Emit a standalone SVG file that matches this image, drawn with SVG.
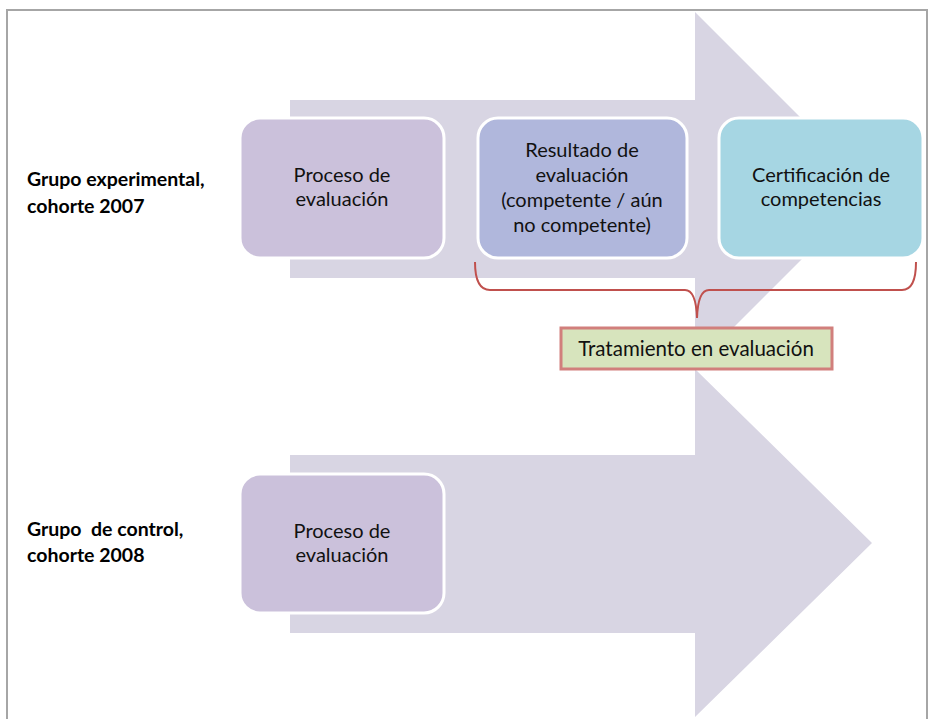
<svg xmlns="http://www.w3.org/2000/svg" width="931" height="719" viewBox="0 0 931 719">
<style>
.arrow{fill:#D8D5E3}
.box{stroke:#FFFFFF;stroke-width:3}
.t{font-family:Lato,"Open Sans",sans-serif;font-size:20px;fill:#111;text-anchor:middle}
.lbl{font-family:Lato,"Open Sans",sans-serif;font-size:19.5px;font-weight:bold;fill:#000}
</style>
<rect x="0" y="0" width="931" height="719" fill="#FFFFFF"/>
<g id="frame">
<path d="M7,725 L7,10 L927,10 L927,725" fill="none" stroke="#A6A6A6" stroke-width="2"/>
</g>
<g id="arrow-upper">
<polygon class="arrow" points="290,100 695,100 695,12 872,189 695,366 695,278 290,278"/>
</g>
<g id="arrow-lower">
<polygon class="arrow" points="290,455 695,455 695,369 872,543 695,717 695,633 290,633"/>
</g>
<g id="label-experimental">
<text class="lbl" x="27" y="186">Grupo experimental,</text>
<text class="lbl" x="27" y="213">cohorte 2007</text>
</g>
<g id="label-control">
<text class="lbl" x="27" y="536" xml:space="preserve">Grupo  de control,</text>
<text class="lbl" x="27" y="562">cohorte 2008</text>
</g>
<g id="proceso-1">
<rect class="box" x="240" y="118" width="204" height="140" rx="20" fill="#CBC1DB"/>
<text class="t" x="342" y="182">Proceso de</text>
<text class="t" x="342" y="206">evaluación</text>
</g>
<g id="resultado">
<rect class="box" x="478" y="118" width="209" height="140" rx="20" fill="#B0B7DC"/>
<text class="t" x="582" y="157">Resultado de</text>
<text class="t" x="582" y="182">evaluación</text>
<text class="t" x="582" y="207">(competente / aún</text>
<text class="t" x="582" y="232">no competente)</text>
</g>
<g id="certificacion">
<rect class="box" x="719" y="118" width="204" height="140" rx="20" fill="#A6D6E3"/>
<text class="t" x="821" y="182">Certificación de</text>
<text class="t" x="821" y="206">competencias</text>
</g>
<g id="proceso-2">
<rect class="box" x="240" y="474" width="204" height="139" rx="20" fill="#CBC1DB"/>
<text class="t" x="342" y="538">Proceso de</text>
<text class="t" x="342" y="562">evaluación</text>
</g>
<g id="connectors">
<path d="M475,262 Q475,290 490,290 L685,290 Q696,290 697,318 Q698,290 709,290 L902,290 Q916,290 916,262" fill="none" stroke="#C0504D" stroke-width="2"/>
</g>
<g id="tratamiento">
<rect x="561" y="328" width="271" height="41" fill="#D7E4BD" stroke="#D17F7C" stroke-width="3"/>
<text class="t" x="696" y="356" style="font-size:20.5px">Tratamiento en evaluación</text>
</g>
</svg>
